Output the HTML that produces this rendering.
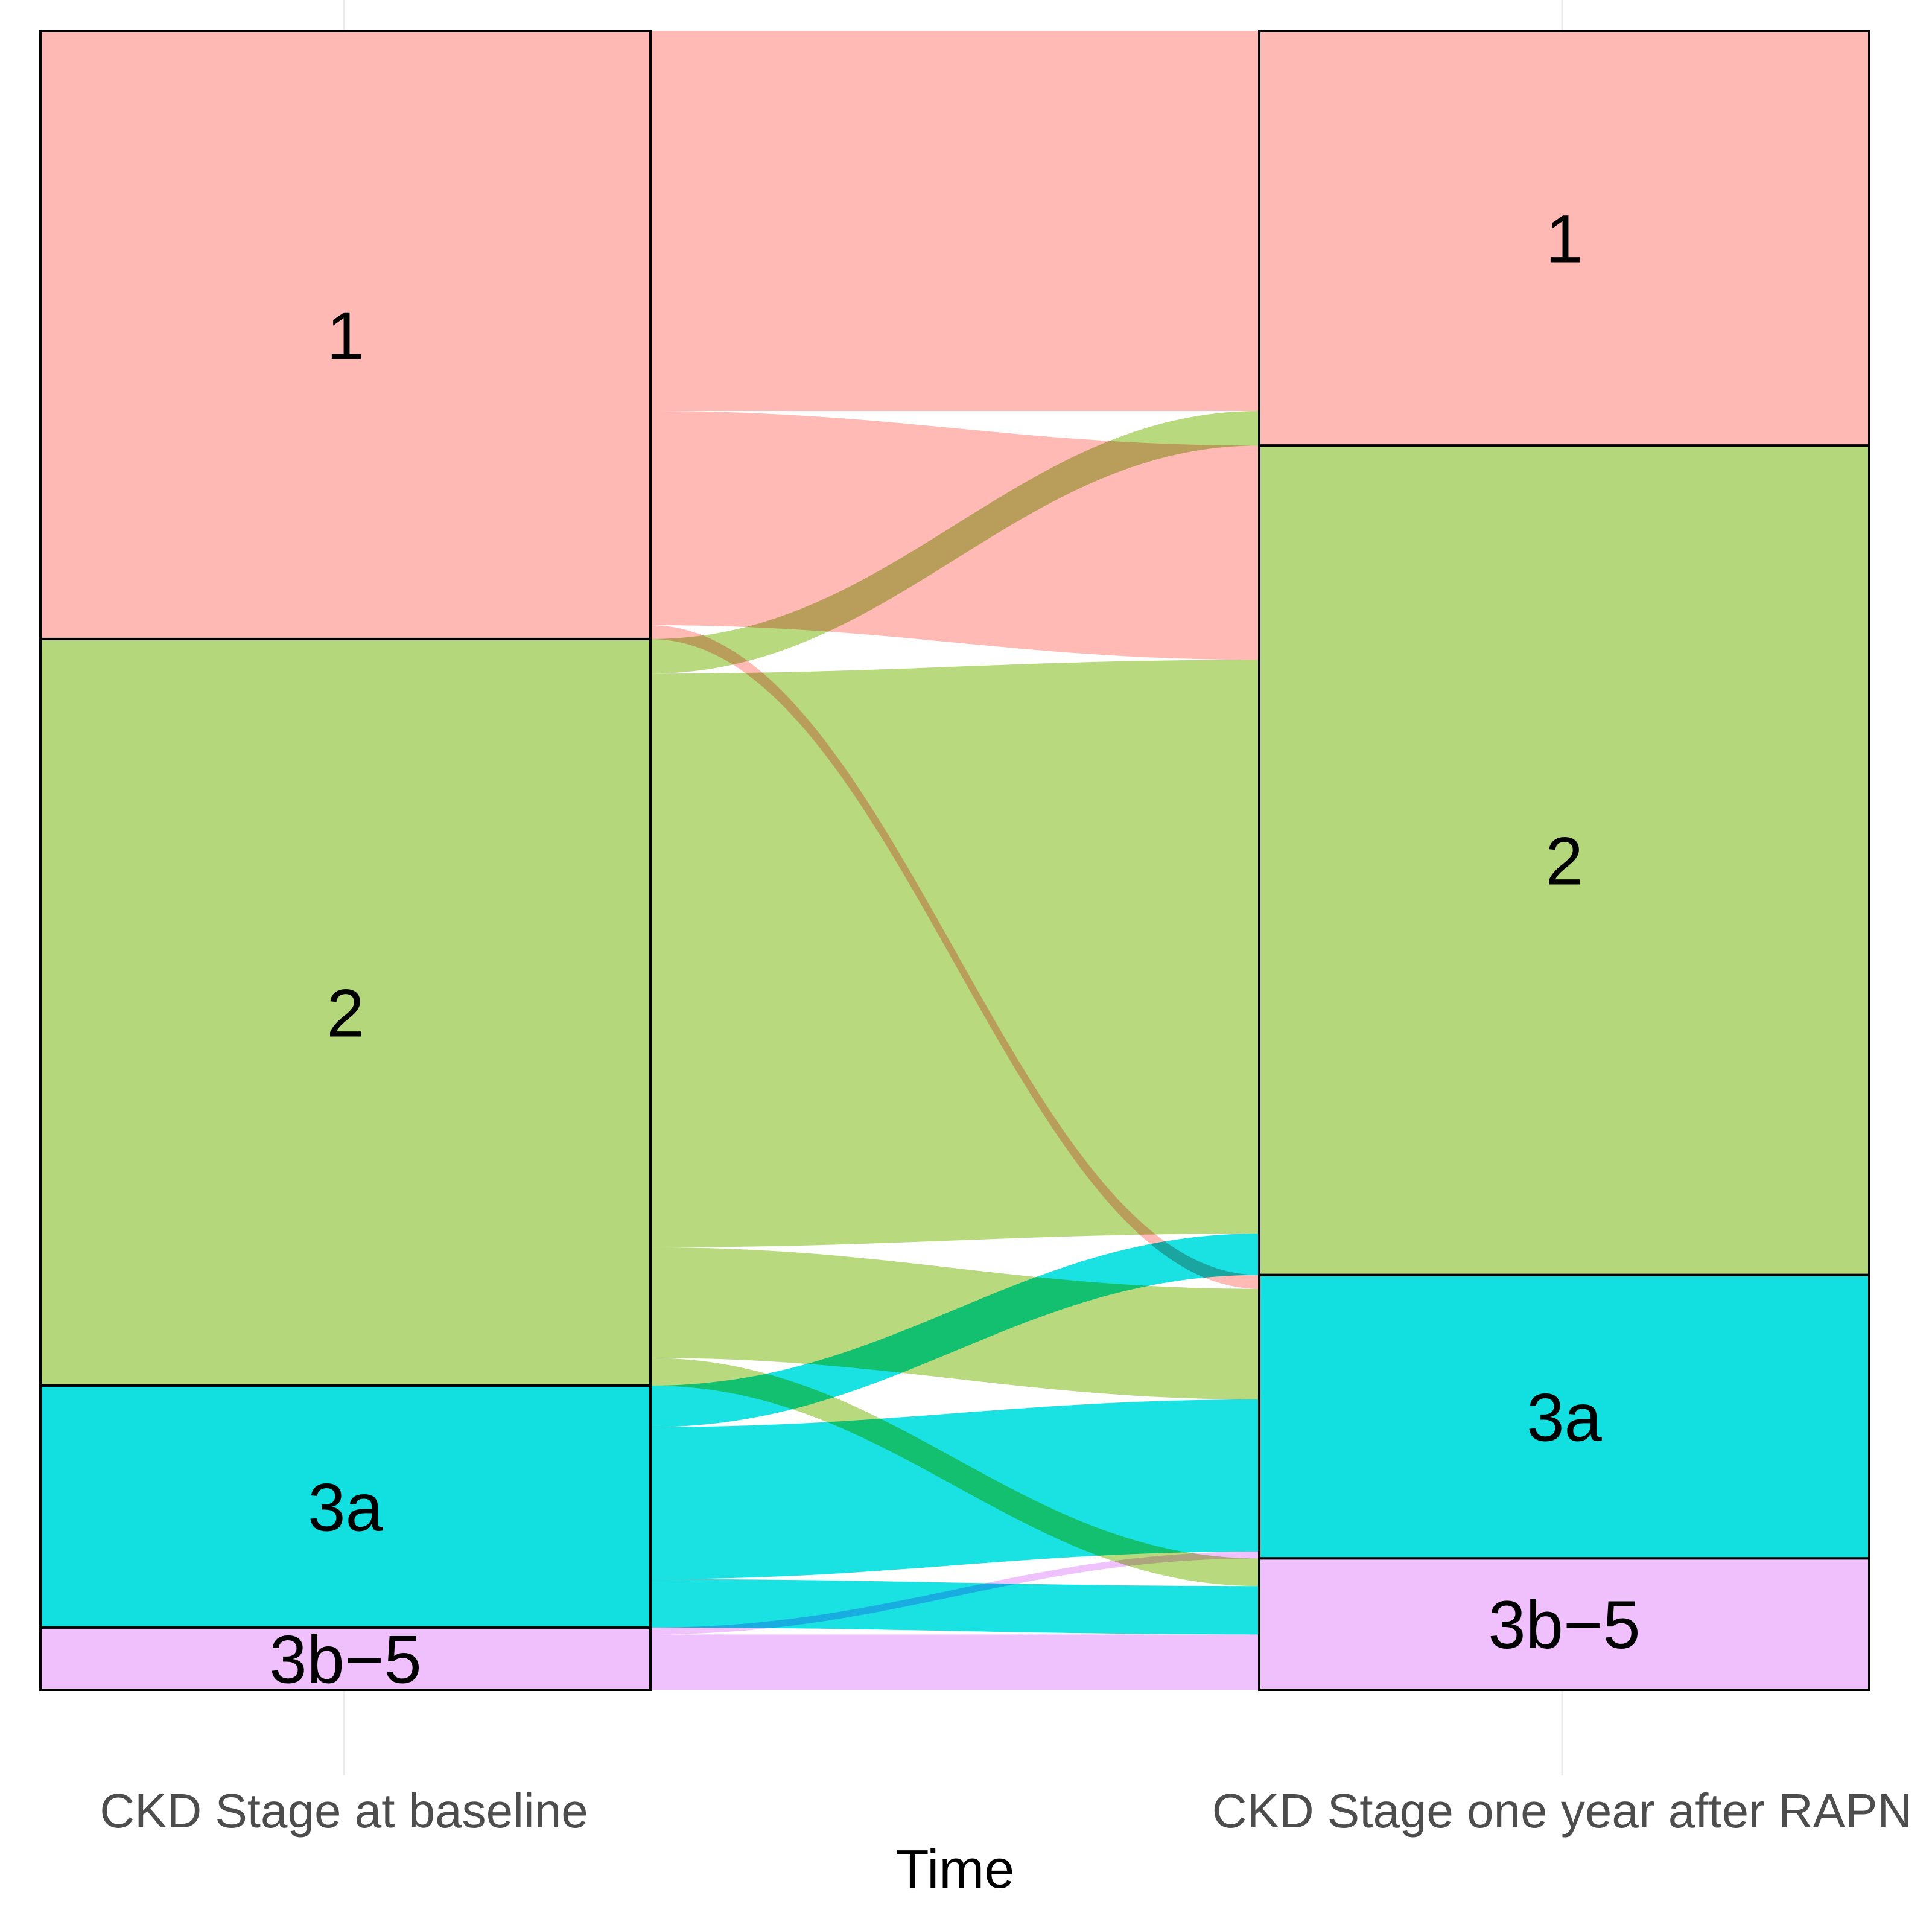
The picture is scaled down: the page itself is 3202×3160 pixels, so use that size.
<!DOCTYPE html>
<html><head><meta charset="utf-8">
<style>
html,body{margin:0;padding:0;background:#fff;}
svg{display:block;}
text{font-family:"Liberation Sans",sans-serif;}
</style></head>
<body>
<svg id="chart" width="3202" height="3160" viewBox="0 0 3202 3160" xmlns="http://www.w3.org/2000/svg">
  <rect x="0" y="0" width="3202" height="3160" fill="#fff"/>
  <line x1="570" y1="0" x2="570" y2="2942" stroke="#ebebeb" stroke-width="3"/>
  <line x1="2589" y1="0" x2="2589" y2="2942" stroke="#ebebeb" stroke-width="3"/>
  <g id="flows"></g>
  <g id="strata"></g>
  <text x="570" y="3028" font-size="80" fill="#4d4d4d" text-anchor="middle">CKD Stage at baseline</text>
  <text x="2589" y="3028" font-size="80" fill="#4d4d4d" text-anchor="middle">CKD Stage one year after RAPN</text>
  <text x="1583" y="3128" font-size="90" fill="#000" text-anchor="middle">Time</text>
</svg>
<script>
const stages = ["1", "2", "3a", "3b\u22125"];
const flowSource = [0, 0, 0, 1, 1, 1, 1, 2, 2, 2, 3, 3];
const flowTarget = [0, 1, 2, 0, 1, 2, 3, 1, 2, 3, 2, 3];
const flowCount  = [55, 31, 2, 5, 83, 16, 4, 6, 22, 7, 1, 8];

const stratumFill = ["#FFB9B5", "#B5D77C", "#12DFE0", "#EFC0FC"];
const flowFill = ["#FFBAB6", "#B8D97E", "#1AE2E2", "#EFC2FD"];
const NS = "http://www.w3.org/2000/svg";
const top0 = 51, bot0 = 2800;
const axisX = [[67, 1078], [2087, 3098]];
const total = flowCount.reduce((a, b) => a + b, 0);
const yScale = v => v * (bot0 - top0) / total;

const leftSize = stages.map((s, i) => flowCount.reduce((a, c, k) => a + (flowSource[k] === i ? c : 0), 0));
const rightSize = stages.map((s, i) => flowCount.reduce((a, c, k) => a + (flowTarget[k] === i ? c : 0), 0));
function starts(sizes) { let acc = 0; return sizes.map(s => { const y = acc; acc += s; return y; }); }
const leftStart = starts(leftSize), rightStart = starts(rightSize);

const flowsG = document.getElementById("flows");
const lOff = leftStart.slice(), rOff = rightStart.slice();
const order = flowCount.map((c, k) => k);
const lPos = [], rPos = [];
order.slice().sort((a, b) => flowSource[a] - flowSource[b] || flowTarget[a] - flowTarget[b]).forEach(k => { lPos[k] = lOff[flowSource[k]]; lOff[flowSource[k]] += flowCount[k]; });
order.slice().sort((a, b) => flowTarget[a] - flowTarget[b] || flowSource[a] - flowSource[b]).forEach(k => { rPos[k] = rOff[flowTarget[k]]; rOff[flowTarget[k]] += flowCount[k]; });
const x0 = axisX[0][1], x1 = axisX[1][0];
const c1 = x0 + (x1 - x0) * 0.4, c2 = x1 - (x1 - x0) * 0.4;
order.forEach(k => {
  const ly0 = top0 + yScale(lPos[k]), ly1 = top0 + yScale(lPos[k] + flowCount[k]);
  const ry0 = top0 + yScale(rPos[k]), ry1 = top0 + yScale(rPos[k] + flowCount[k]);
  const p = document.createElementNS(NS, "path");
  p.setAttribute("d", `M${x0},${ly0} C${c1},${ly0} ${c2},${ry0} ${x1},${ry0} L${x1},${ry1} C${c2},${ry1} ${c1},${ly1} ${x0},${ly1} Z`);
  p.setAttribute("fill", flowFill[flowSource[k]]);
  p.setAttribute("style", "mix-blend-mode:multiply");
  
  
  flowsG.appendChild(p);
});

const strataG = document.getElementById("strata");
[[leftStart, leftSize, 0], [rightStart, rightSize, 1]].forEach(([st, sz, ax]) => {
  stages.forEach((s, i) => {
    const y = top0 + yScale(st[i]), h = yScale(sz[i]);
    const r = document.createElementNS(NS, "rect");
    r.setAttribute("x", axisX[ax][0]); r.setAttribute("y", y);
    r.setAttribute("width", axisX[ax][1] - axisX[ax][0]); r.setAttribute("height", h);
    r.setAttribute("fill", stratumFill[i]); r.setAttribute("stroke", "#000"); r.setAttribute("stroke-width", "4");
    
    
    strataG.appendChild(r);
    const t = document.createElementNS(NS, "text");
    t.setAttribute("x", (axisX[ax][0] + axisX[ax][1]) / 2);
    t.setAttribute("y", y + h / 2 + 40);
    t.setAttribute("font-size", "112");
    t.setAttribute("text-anchor", "middle");
    t.textContent = s;
    
    
    strataG.appendChild(t);
  });
});
</script>
</body></html>
